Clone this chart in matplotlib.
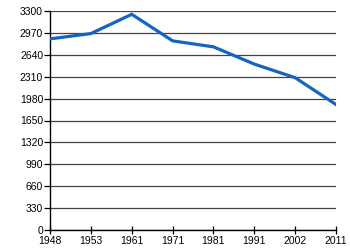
import matplotlib

matplotlib.use('Agg')
import matplotlib.pyplot as plt

# Data
years = ['1948', '1953', '1961', '1971', '1981', '1991', '2002', '2011']
population = [2880, 2960, 3250, 2850, 2760, 2500, 2295, 1890]
y_ticks = [0, 330, 660, 990, 1320, 1650, 1980, 2310, 2640, 2970, 3300]

plt.rcParams['font.family'] = ['Liberation Sans', 'DejaVu Sans']

fig = plt.figure(figsize=(3.5, 2.5), dpi=100)
ax = fig.add_axes([0.143, 0.08, 0.817, 0.876])

x = list(range(len(years)))
ax.plot(x, population, color='#1565c0', linewidth=2.3, solid_joinstyle='miter', zorder=3)

ax.set_xlim(0, len(years) - 1)
ax.set_ylim(0, 3300)
ax.set_xticks(x)
ax.set_xticklabels(years)
ax.set_yticks(y_ticks)

# Horizontal grid lines
ax.grid(axis='y', color='#444444', linewidth=0.9)
ax.set_axisbelow(True)

for side in ['top', 'right']:
    ax.spines[side].set_visible(False)
for side in ['left', 'bottom']:
    ax.spines[side].set_color('black')
    ax.spines[side].set_linewidth(1.0)

ax.tick_params(axis='both', labelsize=7.5, length=4, width=0.9, pad=1)
ax.tick_params(axis='x', direction='inout', length=6)

plt.savefig('out.png', dpi=100)
